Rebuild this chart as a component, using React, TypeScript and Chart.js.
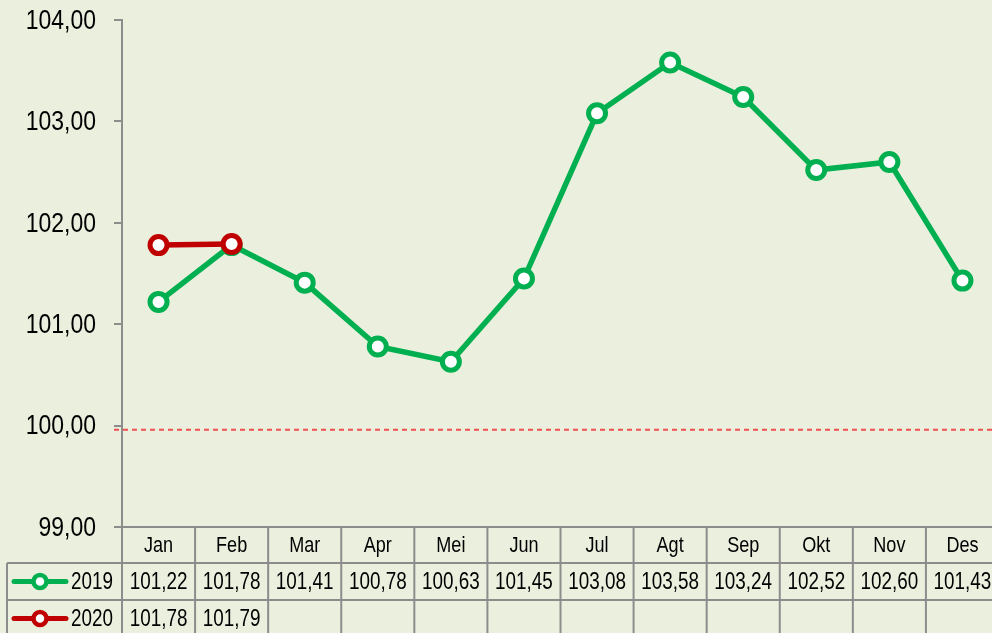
import React, { useEffect, useRef } from "react";
import { Chart, registerables } from "chart.js";
Chart.register(...registerables);

const MONTHS = ["Jan", "Feb", "Mar", "Apr", "Mei", "Jun", "Jul", "Agt", "Sep", "Okt", "Nov", "Des"];
const SERIES_2019 = [101.22, 101.78, 101.41, 100.78, 100.63, 101.45, 103.08, 103.58, 103.24, 102.52, 102.6, 101.43];
const SERIES_2020 = [101.78, 101.79];
const SERIES_NAMES = ["2019", "2020"];
const Y_MIN = 99;
const Y_MAX = 104;
const Y_STEP = 1;
const REF_LINE = 99.96;

const BG = "rgb(235,239,222)";
const GRID = "#8c8c8c";
const GREEN = "#00B050";
const RED = "#C00000";
const FONT = "'Liberation Sans', Arial, sans-serif";
const SQUEEZE = 0.82;
const CANVAS_W = 1000;
const CANVAS_H = 633;

const fmt = (v: number) => v.toFixed(2).replace(".", ",");

function drawText(ctx: any, text: string, x: number, y: number, align: string, size: number) {
  ctx.save();
  ctx.translate(x, y);
  ctx.scale(SQUEEZE, 1);
  ctx.font = `${size}px ${FONT}`;
  ctx.textAlign = align;
  ctx.textBaseline = "middle";
  ctx.fillStyle = "#000";
  ctx.fillText(text, 0, 0);
  ctx.restore();
}

const bgPlugin = {
  id: "bg",
  beforeDraw(chart: any) {
    const { ctx } = chart;
    ctx.save();
    ctx.fillStyle = BG;
    ctx.fillRect(0, 0, chart.width, chart.height);
    ctx.restore();
  },
  beforeDatasetsDraw(chart: any) {
    const { ctx, chartArea, scales } = chart;
    const y = scales.y.getPixelForValue(REF_LINE);
    ctx.save();
    ctx.strokeStyle = "#F05050";
    ctx.lineWidth = 2;
    ctx.setLineDash([5, 4]);
    ctx.beginPath();
    ctx.moveTo(chartArea.left - 8, y);
    ctx.lineTo(chart.width, y);
    ctx.stroke();
    ctx.restore();
  },
};

const tablePlugin = {
  id: "table",
  afterDraw(chart: any) {
    const { ctx, chartArea, scales } = chart;
    const x = scales.x;
    const yS = scales.y;
    const n = MONTHS.length;
    const w = x.getPixelForValue(1) - x.getPixelForValue(0);
    const top = chartArea.bottom;
    const r1 = top + 36;
    const r2 = top + 73;
    const r3 = top + 110;
    const left = 7;
    const H = chart.height;
    const W = chart.width;
    const line = (x1: number, y1: number, x2: number, y2: number) => {
      ctx.beginPath();
      ctx.moveTo(x1, y1);
      ctx.lineTo(x2, y2);
      ctx.stroke();
    };
    for (let v = Y_MIN; v <= Y_MAX; v += Y_STEP) {
      drawText(ctx, fmt(v), chartArea.left - 26, yS.getPixelForValue(v) + 1, "right", 28);
    }
    ctx.save();
    ctx.strokeStyle = GRID;
    ctx.lineWidth = 2;
    line(chartArea.left - 8, top, W, top);
    line(left, r1, W, r1);
    line(left, r2, W, r2);
    line(left, r3, W, r3);
    for (let i = 0; i <= n; i++) {
      const bx = x.getPixelForValue(0) - w / 2 + i * w;
      line(bx, top, bx, H);
    }
    line(left, r1, left, H);
    ctx.restore();

    MONTHS.forEach((m, i) => drawText(ctx, m, x.getPixelForValue(i), (top + r1) / 2 + 1, "center", 22));
    const rows = [SERIES_2019, SERIES_2020];
    const colors = [GREEN, RED];
    const rowMids = [(r1 + r2) / 2 + 1, (r2 + r3) / 2 + 1];
    rows.forEach((vals, ri) => {
      vals.forEach((v, i) => drawText(ctx, fmt(v), x.getPixelForValue(i), rowMids[ri], "center", 23));
      const cy = rowMids[ri] - 1;
      ctx.save();
      ctx.strokeStyle = colors[ri];
      ctx.lineWidth = 5;
      ctx.lineCap = "round";
      line(14, cy, 66, cy);
      ctx.beginPath();
      ctx.arc(40, cy, 6.5, 0, Math.PI * 2);
      ctx.fillStyle = "#fff";
      ctx.fill();
      ctx.lineWidth = 4.5;
      ctx.stroke();
      ctx.restore();
      drawText(ctx, SERIES_NAMES[ri], 71, rowMids[ri], "left", 23);
    });
  },
};

export default function App() {
  const ref = useRef<HTMLCanvasElement>(null);
  useEffect(() => {
    if (!ref.current) return;
    const chart = new Chart(ref.current, {
      type: "line",
      data: {
        labels: MONTHS,
        datasets: [
          {
            label: SERIES_NAMES[0],
            data: SERIES_2019,
            borderColor: GREEN,
            borderWidth: 5.5,
            pointRadius: 8.5,
            pointBorderWidth: 5,
            pointBackgroundColor: "#fff",
            pointBorderColor: GREEN,
            order: 1,
          },
          {
            label: SERIES_NAMES[1],
            data: SERIES_2020,
            borderColor: RED,
            borderWidth: 5.5,
            pointRadius: 8.5,
            pointBorderWidth: 5,
            pointBackgroundColor: "#fff",
            pointBorderColor: RED,
            order: 0,
          },
        ],
      },
      options: {
        responsive: false,
        animation: false,
        devicePixelRatio: 1,
        layout: { autoPadding: false, padding: { left: 0, right: 1, top: 20, bottom: 106 } },
        plugins: { legend: { display: false }, tooltip: { enabled: false } },
        scales: {
          x: { type: "category", offset: true, display: false },
          y: {
            min: Y_MIN,
            max: Y_MAX,
            afterFit: (s: any) => {
              s.width = 122;
            },
            ticks: { stepSize: Y_STEP, display: false },
            grid: { drawOnChartArea: false, drawTicks: true, tickLength: 8, color: GRID, lineWidth: 2 },
            border: { display: true, color: GRID, width: 2 },
          },
        },
      },
      plugins: [bgPlugin, tablePlugin],
    });
    return () => chart.destroy();
  }, []);
  return (
    <div
      style={{
        position: "fixed",
        left: 0,
        top: 0,
        width: 992,
        height: 633,
        overflow: "hidden",
        background: BG,
      }}
    >
      <canvas ref={ref} width={CANVAS_W} height={CANVAS_H} style={{ display: "block" }} />
    </div>
  );
}
